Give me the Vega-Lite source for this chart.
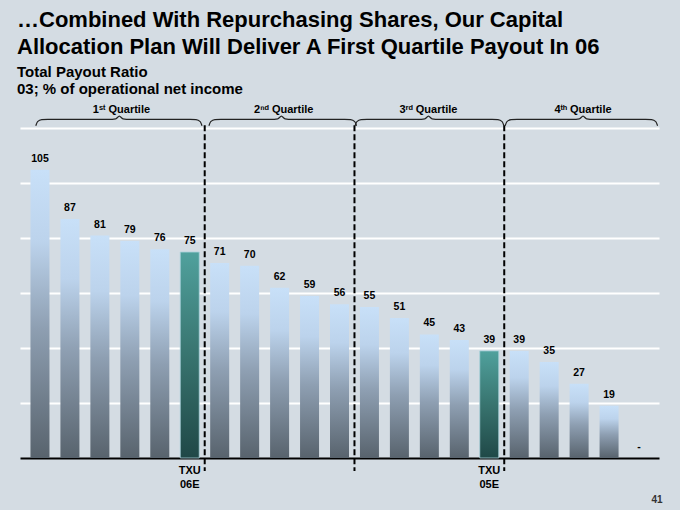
{
  "$schema": "https://vega.github.io/schema/vega-lite/v6.json",
  "autosize": {"type": "none"},
  "padding": {"left": 20, "top": 101, "right": 21, "bottom": 52},
  "width": 639,
  "height": 357,
  "background": "#d4dce3",
  "config": {"view": {"stroke": null}},
  "title": {
    "text": ["…Combined With Repurchasing Shares, Our Capital", "Allocation Plan Will Deliver A First Quartile Payout In 06"],
    "subtitle": ["Total Payout Ratio", "03; % of operational net income"],
    "anchor": "start",
    "dx": -3,
    "offset": 3,
    "font": "Liberation Sans",
    "fontSize": 22,
    "fontWeight": "bold",
    "color": "#000000",
    "lineHeight": 27,
    "subtitleFont": "Liberation Sans",
    "subtitleFontSize": 15,
    "subtitleFontWeight": "bold",
    "subtitleColor": "#000000",
    "subtitleLineHeight": 17,
    "subtitlePadding": 6
  },
  "datasets": {
    "bars": [
      {"i": 1, "v": 105, "label": "105", "txu": false, "xl": ""},
      {"i": 2, "v": 87, "label": "87", "txu": false, "xl": ""},
      {"i": 3, "v": 81, "label": "81", "txu": false, "xl": ""},
      {"i": 4, "v": 79, "label": "79", "txu": false, "xl": ""},
      {"i": 5, "v": 76, "label": "76", "txu": false, "xl": ""},
      {"i": 6, "v": 75, "label": "75", "txu": true, "xl": "TXU 06E"},
      {"i": 7, "v": 71, "label": "71", "txu": false, "xl": ""},
      {"i": 8, "v": 70, "label": "70", "txu": false, "xl": ""},
      {"i": 9, "v": 62, "label": "62", "txu": false, "xl": ""},
      {"i": 10, "v": 59, "label": "59", "txu": false, "xl": ""},
      {"i": 11, "v": 56, "label": "56", "txu": false, "xl": ""},
      {"i": 12, "v": 55, "label": "55", "txu": false, "xl": ""},
      {"i": 13, "v": 51, "label": "51", "txu": false, "xl": ""},
      {"i": 14, "v": 45, "label": "45", "txu": false, "xl": ""},
      {"i": 15, "v": 43, "label": "43", "txu": false, "xl": ""},
      {"i": 16, "v": 39, "label": "39", "txu": true, "xl": "TXU 05E"},
      {"i": 17, "v": 39, "label": "39", "txu": false, "xl": ""},
      {"i": 18, "v": 35, "label": "35", "txu": false, "xl": ""},
      {"i": 19, "v": 27, "label": "27", "txu": false, "xl": ""},
      {"i": 20, "v": 19, "label": "19", "txu": false, "xl": ""},
      {"i": 21, "v": 0, "label": "-", "txu": false, "xl": ""}
    ],
    "dividers": [{"x": 6.5}, {"x": 11.5}, {"x": 16.5}],
    "quartiles": [
      {"x": 3.72, "t": "1ˢᵗ Quartile"},
      {"x": 9.14, "t": "2ⁿᵈ Quartile"},
      {"x": 13.97, "t": "3ʳᵈ Quartile"},
      {"x": 19.13, "t": "4ᵗʰ Quartile"}
    ],
    "braces": [
      {"q": 1, "x": 0.86, "y": 121.0}, {"q": 1, "x": 0.92, "y": 122.5}, {"q": 1, "x": 1.06, "y": 123.2}, {"q": 1, "x": 1.26, "y": 123.3},
      {"q": 1, "x": 3.30, "y": 123.3}, {"q": 1, "x": 3.53, "y": 123.5}, {"q": 1, "x": 3.65, "y": 124.5}, {"q": 1, "x": 3.77, "y": 123.5},
      {"q": 1, "x": 4.00, "y": 123.3}, {"q": 1, "x": 6.01, "y": 123.3}, {"q": 1, "x": 6.21, "y": 123.2}, {"q": 1, "x": 6.35, "y": 122.5}, {"q": 1, "x": 6.41, "y": 121.0},
      {"q": 2, "x": 6.64, "y": 121.0}, {"q": 2, "x": 6.70, "y": 122.5}, {"q": 2, "x": 6.84, "y": 123.2}, {"q": 2, "x": 7.04, "y": 123.3},
      {"q": 2, "x": 8.71, "y": 123.3}, {"q": 2, "x": 8.94, "y": 123.5}, {"q": 2, "x": 9.06, "y": 124.5}, {"q": 2, "x": 9.18, "y": 123.5},
      {"q": 2, "x": 9.41, "y": 123.3}, {"q": 2, "x": 11.17, "y": 123.3}, {"q": 2, "x": 11.37, "y": 123.2}, {"q": 2, "x": 11.51, "y": 122.5}, {"q": 2, "x": 11.57, "y": 121.0},
      {"q": 3, "x": 11.52, "y": 121.0}, {"q": 3, "x": 11.58, "y": 122.5}, {"q": 3, "x": 11.72, "y": 123.2}, {"q": 3, "x": 11.92, "y": 123.3},
      {"q": 3, "x": 13.62, "y": 123.3}, {"q": 3, "x": 13.85, "y": 123.5}, {"q": 3, "x": 13.97, "y": 124.5}, {"q": 3, "x": 14.09, "y": 123.5},
      {"q": 3, "x": 14.32, "y": 123.3}, {"q": 3, "x": 16.09, "y": 123.3}, {"q": 3, "x": 16.29, "y": 123.2}, {"q": 3, "x": 16.43, "y": 122.5}, {"q": 3, "x": 16.49, "y": 121.0},
      {"q": 4, "x": 16.53, "y": 121.0}, {"q": 4, "x": 16.59, "y": 122.5}, {"q": 4, "x": 16.73, "y": 123.2}, {"q": 4, "x": 16.93, "y": 123.3},
      {"q": 4, "x": 18.78, "y": 123.3}, {"q": 4, "x": 19.01, "y": 123.5}, {"q": 4, "x": 19.13, "y": 124.5}, {"q": 4, "x": 19.25, "y": 123.5},
      {"q": 4, "x": 19.48, "y": 123.3}, {"q": 4, "x": 21.22, "y": 123.3}, {"q": 4, "x": 21.42, "y": 123.2}, {"q": 4, "x": 21.56, "y": 122.5}, {"q": 4, "x": 21.62, "y": 121.0}
    ],
    "page": [{"x": 21.6, "y": -15.2, "t": "41"}]
  },
  "layer": [
    {
      "data": {"name": "bars"},
      "transform": [{"filter": "!datum.txu"}],
      "mark": {
        "type": "bar",
        "size": 19,
        "fill": {
          "gradient": "linear", "x1": 0, "y1": 0, "x2": 0, "y2": 1,
          "stops": [
            {"offset": 0, "color": "#c8e0f8"},
            {"offset": 0.25, "color": "#bcd3ec"},
            {"offset": 0.55, "color": "#8e9fb2"},
            {"offset": 1, "color": "#58636d"}
          ]
        }
      },
      "encoding": {
        "x": {
          "field": "i", "type": "quantitative",
          "scale": {"domain": [0.5, 21.5], "nice": false, "zero": false},
          "axis": {"domain": true, "domainColor": "#000000", "domainWidth": 2, "ticks": false, "labels": false, "grid": false, "title": null}
        },
        "y": {
          "field": "v", "type": "quantitative",
          "scale": {"domain": [0, 130], "nice": false},
          "axis": {"values": [20, 40, 60, 80, 100, 120], "grid": true, "gridColor": "#ffffff", "gridWidth": 2, "gridOpacity": 1, "domain": false, "ticks": false, "labels": false, "title": null}
        }
      }
    },
    {
      "data": {"name": "bars"},
      "transform": [{"filter": "datum.txu"}],
      "mark": {
        "type": "bar",
        "size": 19,
        "stroke": "#a9d2dc",
        "strokeWidth": 0.8,
        "fill": {
          "gradient": "linear", "x1": 0, "y1": 0, "x2": 0, "y2": 1,
          "stops": [
            {"offset": 0, "color": "#50a19d"},
            {"offset": 0.5, "color": "#38746f"},
            {"offset": 1, "color": "#1f4847"}
          ]
        }
      },
      "encoding": {
        "x": {"field": "i", "type": "quantitative"},
        "y": {"field": "v", "type": "quantitative"}
      }
    },
    {
      "data": {"name": "bars"},
      "mark": {"type": "text", "baseline": "alphabetic", "dy": -8, "fontSize": 10.5, "fontWeight": "bold", "font": "Liberation Sans", "color": "#000000"},
      "encoding": {
        "x": {"field": "i", "type": "quantitative"},
        "y": {"field": "v", "type": "quantitative"},
        "text": {"field": "label"}
      }
    },
    {
      "data": {"name": "bars"},
      "transform": [{"filter": "datum.txu"}],
      "mark": {"type": "text", "baseline": "top", "lineBreak": " ", "lineHeight": 14, "fontSize": 11, "fontWeight": "bold", "font": "Liberation Sans", "color": "#000000"},
      "encoding": {
        "x": {"field": "i", "type": "quantitative"},
        "y": {"datum": -2.4},
        "text": {"field": "xl"}
      }
    },
    {
      "data": {"name": "dividers"},
      "mark": {"type": "rule", "strokeDash": [6, 3], "strokeWidth": 2, "color": "#000000"},
      "encoding": {
        "x": {"field": "x", "type": "quantitative"},
        "y": {"datum": 121.2},
        "y2": {"datum": -4.7}
      }
    },
    {
      "data": {"name": "braces"},
      "mark": {"type": "line", "interpolate": "monotone", "color": "#222222", "strokeWidth": 1.2},
      "encoding": {
        "x": {"field": "x", "type": "quantitative"},
        "y": {"field": "y", "type": "quantitative"},
        "detail": {"field": "q"}
      }
    },
    {
      "data": {"name": "quartiles"},
      "mark": {"type": "text", "baseline": "middle", "fontSize": 11, "fontWeight": "bold", "font": "Liberation Sans", "color": "#000000"},
      "encoding": {
        "x": {"field": "x", "type": "quantitative"},
        "y": {"datum": 126.6},
        "text": {"field": "t"}
      }
    },
    {
      "data": {"name": "page"},
      "mark": {"type": "text", "baseline": "middle", "fontSize": 10, "fontWeight": "bold", "font": "Liberation Sans", "color": "#333333"},
      "encoding": {
        "x": {"field": "x", "type": "quantitative"},
        "y": {"field": "y", "type": "quantitative"},
        "text": {"field": "t"}
      }
    }
  ]
}
